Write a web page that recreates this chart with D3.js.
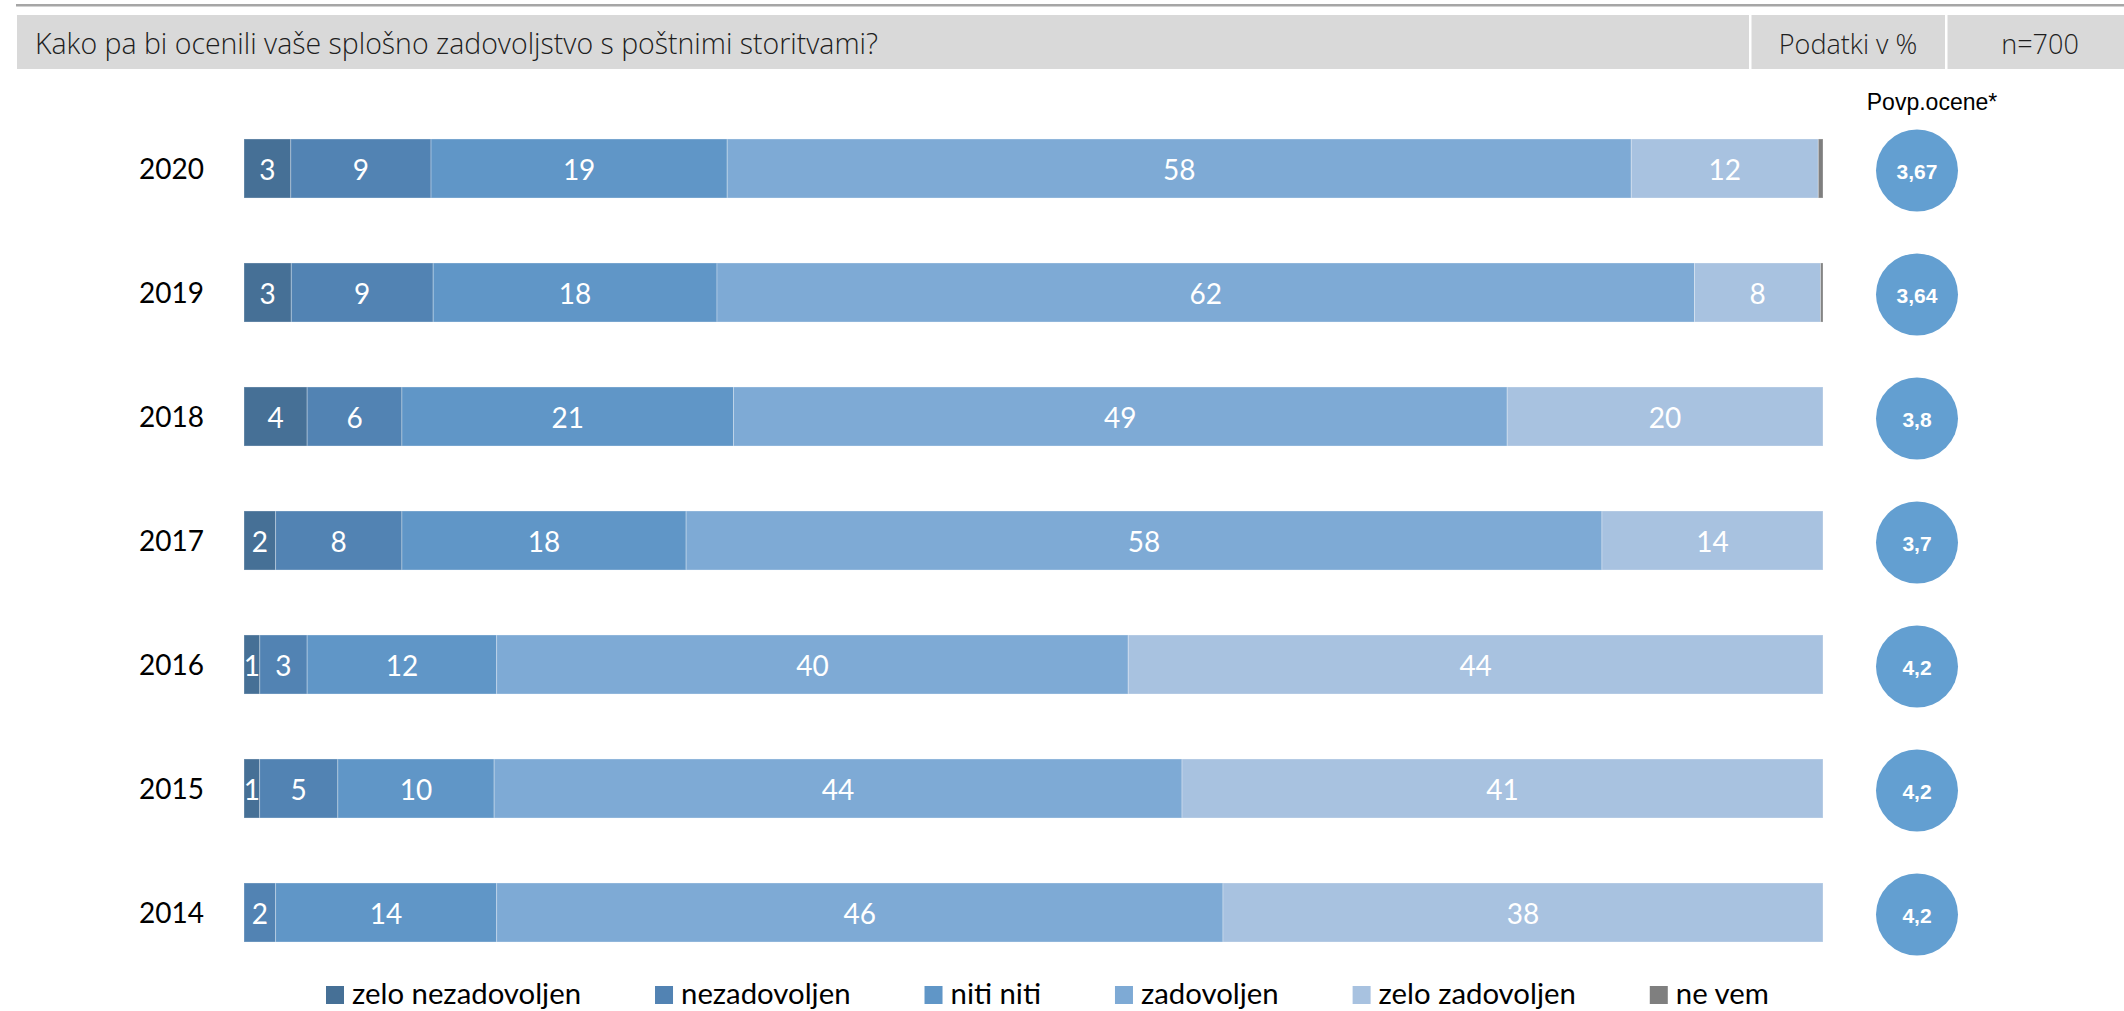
<!DOCTYPE html>
<html>
<head>
<meta charset="utf-8">
<script src="https://cdn.jsdelivr.net/npm/d3@7"></script>
<style>
  html, body { margin: 0; padding: 0; background: #fff; }
  svg { display: block; }
</style>
</head>
<body>
<svg id="chart" width="2124" height="1011"></svg>
<script>
// Survey: overall satisfaction with postal services, by year (shares in %)
const years = ["2020", "2019", "2018", "2017", "2016", "2015", "2014"];
const categories = ["zelo nezadovoljen", "nezadovoljen", "niti niti", "zadovoljen", "zelo zadovoljen", "ne vem"];
const zeloNezadovoljen = [3, 3, 4, 2, 1, 1, 0];
const nezadovoljen     = [9, 9, 6, 8, 3, 5, 2];
const nitiNiti         = [19, 18, 21, 18, 12, 10, 14];
const zadovoljen       = [58, 62, 49, 58, 40, 44, 46];
const zeloZadovoljen   = [12, 8, 20, 14, 44, 41, 38];
const neVem            = [0.3, 0.15, 0, 0, 0, 0, 0];
const averages         = [3.67, 3.64, 3.8, 3.7, 4.2, 4.2, 4.2];

const titleText = "Kako pa bi ocenili vaše splošno zadovoljstvo s poštnimi storitvami?";
const unitText = "Podatki v %";
const sampleText = "n=700";
const avgHeader = "Povp.ocene*";

const colors = ["#467096", "#5283b3", "#6096c7", "#7eaad5", "#a8c2e0", "#7f7f7f"];
const circleColor = "#639fd1";

const seriesValues = [zeloNezadovoljen, nezadovoljen, nitiNiti, zadovoljen, zeloZadovoljen, neVem];
const rows = years.map((y, i) => {
  const r = { year: y };
  categories.forEach((c, k) => { r[c] = seriesValues[k][i]; });
  return r;
});

const svg = d3.select("#chart");

// fit a text element to a target width by adjusting its font size
function fitWidth(sel, target) {
  const node = sel.node();
  const fs = parseFloat(sel.attr("font-size"));
  const w = node.getComputedTextLength();
  const size = fs * target / w;
  sel.attr("font-size", size.toFixed(2));
  return size;
}

// ---- header band ----
svg.append("rect").attr("x", 16).attr("y", 4).attr("width", 2108).attr("height", 2.5).attr("fill", "#a6a6a6");
svg.append("rect").attr("x", 17).attr("y", 15).attr("width", 2107).attr("height", 54).attr("fill", "#d9d9d9");
svg.append("rect").attr("x", 1749).attr("y", 15).attr("width", 2.5).attr("height", 54).attr("fill", "#fff");
svg.append("rect").attr("x", 1945).attr("y", 15).attr("width", 2.5).attr("height", 54).attr("fill", "#fff");

const headFont = "'Open Sans', 'Noto Sans', sans-serif";
const title = svg.append("text")
  .attr("x", 35).attr("y", 54)
  .attr("font-family", headFont).attr("font-size", 28).attr("font-weight", 300)
  .attr("fill", "#1e1e1e").text(titleText);
fitWidth(title, 843);

svg.append("text")
  .attr("x", 1848).attr("y", 54).attr("text-anchor", "middle")
  .attr("font-family", headFont).attr("font-size", 27).attr("font-weight", 300)
  .attr("fill", "#1e1e1e").text(unitText);
svg.append("text")
  .attr("x", 2040).attr("y", 54).attr("text-anchor", "middle")
  .attr("font-family", headFont).attr("font-size", 27).attr("font-weight", 300)
  .attr("fill", "#1e1e1e").text(sampleText);

// ---- scales ----
const x = d3.scaleLinear().domain([0, 1]).range([244, 1823]);
const y = d3.scaleBand().domain(years).range([106.5, 974.5]).paddingInner(0.524).paddingOuter(0.262);

const stack = d3.stack().keys(categories).offset(d3.stackOffsetExpand);
const stacked = stack(rows);

const labelFont = "Lato, 'Open Sans', sans-serif";

// ---- stacked bars ----
const layers = svg.append("g").selectAll("g")
  .data(stacked).join("g")
  .attr("fill", (d, i) => colors[i]);

layers.selectAll("rect")
  .data(d => d.filter(s => s[1] - s[0] > 0))
  .join("rect")
  .attr("x", d => x(d[0]))
  .attr("y", d => y(d.data.year))
  .attr("width", d => x(d[1]) - x(d[0]))
  .attr("height", y.bandwidth())
  .attr("stroke", "#ffffff")
  .attr("stroke-opacity", 0.3)
  .attr("stroke-width", 1);

// segment value labels (answer categories only, "ne vem" is not labelled)
stacked.slice(0, 5).forEach((layer, k) => {
  svg.append("g").selectAll("text")
    .data(layer.filter(s => s.data[categories[k]] > 0))
    .join("text")
    .attr("x", d => (x(d[0]) + x(d[1])) / 2)
    .attr("y", d => y(d.data.year) + y.bandwidth() / 2 + 11)
    .attr("text-anchor", "middle")
    .attr("font-family", labelFont).attr("font-size", 28)
    .attr("fill", "#ffffff")
    .text(d => d.data[categories[k]]);
});

// year labels
svg.append("g").selectAll("text")
  .data(years).join("text")
  .attr("x", 204)
  .attr("y", d => y(d) + y.bandwidth() / 2 + 10)
  .attr("text-anchor", "end")
  .attr("font-family", labelFont).attr("font-size", 28)
  .attr("fill", "#000").text(d => d);

// ---- average score bubbles ----
svg.append("text")
  .attr("x", 1932).attr("y", 110).attr("text-anchor", "middle")
  .attr("font-family", "'Liberation Sans', Arial, sans-serif").attr("font-size", 23)
  .attr("fill", "#000").text(avgHeader);

const bubbles = svg.append("g").selectAll("g")
  .data(years.map((yr, i) => ({ year: yr, avg: averages[i] })))
  .join("g")
  .attr("transform", d => `translate(1917,${y(d.year) + y.bandwidth() / 2 + 2})`);
bubbles.append("circle").attr("r", 41).attr("fill", circleColor);
bubbles.append("text")
  .attr("y", 8).attr("text-anchor", "middle")
  .attr("font-family", "'Liberation Sans', Arial, sans-serif").attr("font-size", 21).attr("font-weight", "bold")
  .attr("fill", "#fff")
  .text(d => String(d.avg).replace(".", ","));

// ---- legend ----
const legend = svg.append("g").attr("transform", "translate(326,986)");
// size the legend font from the first entry's width
const probe = legend.append("text").attr("font-family", labelFont).attr("font-size", 28).text(categories[0]);
const legendSize = fitWidth(probe, 229);
probe.remove();

let lx = 0;
categories.forEach((c, i) => {
  const g = legend.append("g").attr("transform", `translate(${lx},0)`);
  g.append("rect").attr("width", 18).attr("height", 18).attr("fill", colors[i]);
  const t = g.append("text").attr("x", 26).attr("y", 18)
    .attr("font-family", labelFont).attr("font-size", legendSize.toFixed(2)).attr("fill", "#000").text(c);
  lx += 26 + t.node().getComputedTextLength() + 74;
});
</script>
</body>
</html>
